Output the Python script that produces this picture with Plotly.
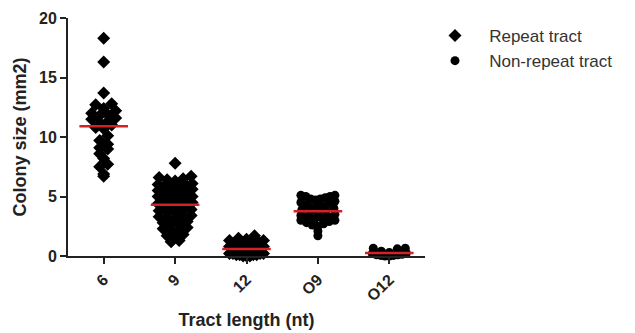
import plotly.graph_objects as go
import numpy as np

categories = ["6", "9", "12", "O9", "O12"]
repeat_flags = [True, True, True, False, False]

g6 = [18.3, 16.3, 13.7, 12.8, 12.7, 12.4, 12.2, 12.0, 11.9, 11.8, 11.6, 11.5, 11.3, 11.2,
      11.0, 10.8, 10.7, 10.1, 9.7, 9.4, 9.1, 9.0, 8.6, 8.2, 7.7, 7.5, 6.9, 6.7]
g9 = [7.8,
      6.7, 6.6, 6.5, 6.4, 6.3,
      6.1, 6.0, 6.0, 5.9, 5.9, 5.8,
      5.6, 5.5, 5.5, 5.4, 5.4, 5.3, 5.2,
      5.0, 5.0, 4.9, 4.9, 4.8, 4.8, 4.7,
      4.5, 4.4, 4.3, 4.3, 4.2, 4.1,
      3.9, 3.8, 3.8, 3.7, 3.6,
      3.4, 3.3, 3.3, 3.2, 3.1,
      2.9, 2.8, 2.7, 2.6,
      2.4, 2.3, 2.2, 2.1,
      1.8, 1.7, 1.6,
      1.3, 1.2]
g12 = [1.7, 1.5, 1.4, 1.3, 1.3, 1.2, 1.1, 1.0, 1.0, 0.9, 0.8, 0.8, 0.7, 0.7, 0.6, 0.6,
       0.5, 0.5, 0.4, 0.4, 0.4, 0.3, 0.3, 0.3, 0.2, 0.2, 0.2, 0.2, 0.1, 0.1, 0.1, 0.1,
       0.0, 0.0, 0.0]
gO9 = [5.1, 5.1, 5.0, 5.0, 4.9, 4.8, 4.8, 4.7, 4.6, 4.5, 4.4, 4.3, 4.2, 4.1, 4.0, 3.9,
       3.8, 3.7, 3.6, 3.5, 3.4, 3.3, 3.3, 3.2, 3.1, 3.0, 3.0, 2.9, 2.8, 2.7, 2.6, 2.5,
       2.1, 1.7]
gO12 = [0.65, 0.65, 0.6, 0.4, 0.3, 0.25, 0.2, 0.15, 0.1, 0.1, 0.05, 0.05, 0.0, 0.0]

groups = [g6, g9, g12, gO9, gO12]
y_ticks = [0, 5, 10, 15, 20]

# layout geometry (figure pixels; the page adds an 8px body margin)
W, H = 627, 325
ML, MT, MB, PR = 60, 10, 77, 417
X_RANGE = [-0.5, 4.5]
Y_RANGE = [0, 20]
PW = PR - ML
PH = H - MT - MB
px_per_x = PW / (X_RANGE[1] - X_RANGE[0])
px_per_y = PH / (Y_RANGE[1] - Y_RANGE[0])


def swarm_offsets(vals, row_px=6.5, gap_px=8.0, max_half_px=17.0):
    """Prism-like scatter: bin values into rows, spread each row horizontally."""
    vals = np.asarray(vals, dtype=float)
    rows = np.floor(vals * px_per_y / row_px + 0.5).astype(int)
    offs = np.zeros(len(vals))
    for r in np.unique(rows):
        idx = np.where(rows == r)[0]
        idx = idx[np.argsort(vals[idx], kind="stable")]
        n = len(idx)
        if n == 1:
            continue
        gap = min(gap_px, 2 * max_half_px / (n - 1))
        pos = (np.arange(n) - (n - 1) / 2) * gap
        order = np.argsort(np.abs(pos), kind="stable")
        for k, j in enumerate(idx):
            offs[j] = pos[order[k]] / px_per_x
    return offs


fig = go.Figure()
shown = {True: False, False: False}
for gi, (vals, rep) in enumerate(zip(groups, repeat_flags)):
    offs = swarm_offsets(vals)
    fig.add_trace(go.Scatter(
        x=[gi + o for o in offs], y=vals, mode="markers",
        marker=dict(symbol="diamond" if rep else "circle", size=10 if rep else 9,
                    color="black", line=dict(width=0)),
        name=("\u00a0\u00a0\u00a0Repeat tract" if rep else "\u00a0\u00a0\u00a0Non-repeat tract"),
        legendgroup="rep" if rep else "non",
        showlegend=not shown[rep], cliponaxis=False, hoverinfo="y"))
    shown[rep] = True

for gi, vals in enumerate(groups):
    m = float(np.mean(vals))
    fig.add_trace(go.Scatter(x=[gi - 0.34, gi + 0.34], y=[m, m], mode="lines",
                             line=dict(color="#d42027", width=2.5), showlegend=False,
                             cliponaxis=False, hoverinfo="skip"))

fig.update_layout(
    width=W, height=H, margin=dict(l=ML, r=W - PR, t=MT, b=MB, autoexpand=False),
    plot_bgcolor="white", paper_bgcolor="white",
    font=dict(family="Liberation Sans, Arial, sans-serif", color="#222"),
    legend=dict(x=(427 - ML) / PW, y=1.0, xanchor="left", yanchor="top",
                font=dict(size=17, color="#333"), itemwidth=30, tracegroupgap=0),
    xaxis=dict(range=X_RANGE, tickmode="array", tickvals=list(range(len(categories))),
               ticktext=categories, tickangle=-45, showgrid=False, zeroline=False,
               automargin=False,
               showline=True, linecolor="#222", linewidth=2, ticks="outside",
               ticklen=6, tickwidth=2, tickcolor="#222",
               tickfont=dict(size=16, weight="bold"),
               title=dict(text="<b>Tract length (nt)</b>", font=dict(size=18), standoff=10)),
    yaxis=dict(range=Y_RANGE, tickmode="array", tickvals=y_ticks, showgrid=False,
               zeroline=False, showline=True, linecolor="#222", linewidth=2,
               automargin=False,
               ticks="outside", ticklen=6, tickwidth=2, tickcolor="#222",
               tickfont=dict(size=16, weight="bold"),
               title=dict(text="<b>Colony size (mm2)</b>", font=dict(size=18), standoff=8)),
)

fig.write_html("out.html")
